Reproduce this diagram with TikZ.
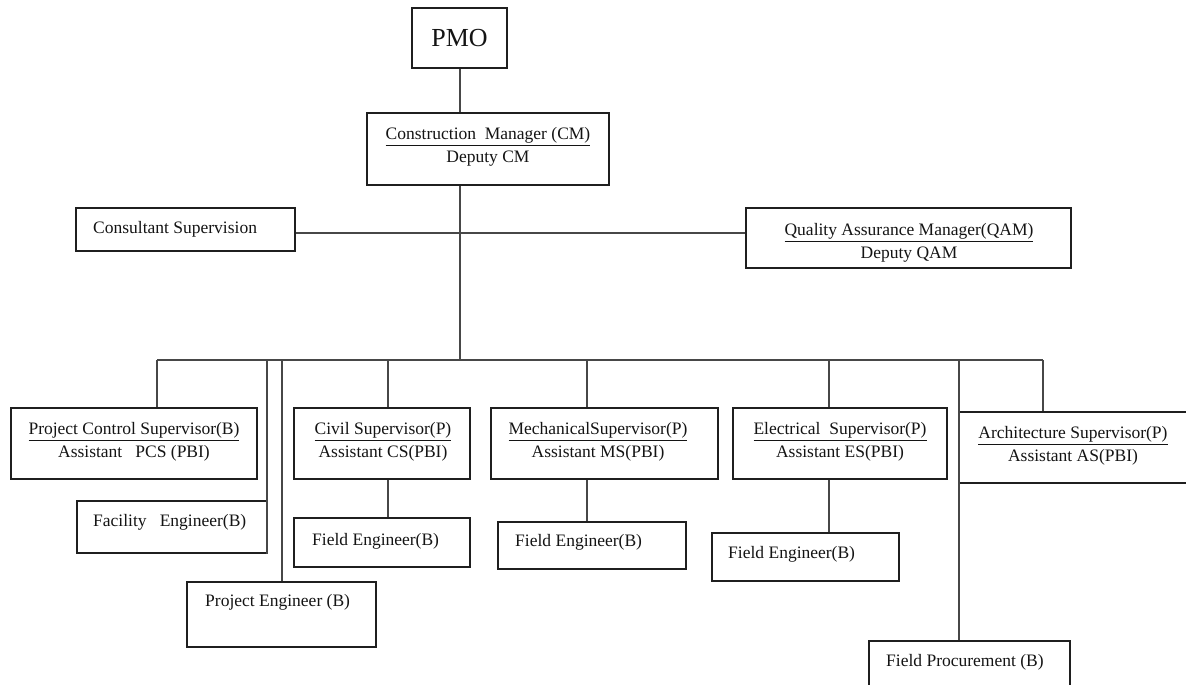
\documentclass[tikz,border=0pt]{standalone}
\usepackage{fontspec}
\setmainfont{Liberation Serif}
\begin{document}
\begin{tikzpicture}[x=1pt,y=-1pt,
  box/.style={draw=black!88, line width=1.4pt, inner sep=0pt},
  conn/.style={draw=black!72, line width=1.3pt},
  txt/.style={font=\fontsize{17.5}{23}\selectfont, inner sep=0pt, align=center, text=black!92},
  ltxt/.style={txt, anchor=mid west}]
\useasboundingbox (0,0) rectangle (1186,685);
\clip (0,0) rectangle (1186,685);
% boxes
\node[box, minimum width=95pt, minimum height=60pt] (pmo) at (459.5,38) {};
\node[txt, font=\fontsize{26}{30}\selectfont] (pmo-t) at (pmo.center) {PMO};
\node[box, minimum width=242pt, minimum height=72pt] (cm) at (488,149) {};
\node[txt] (cm-t) at (488,147) {\underline{Construction~~Manager (CM)}\\Deputy CM};
\node[box, minimum width=219pt, minimum height=43pt] (cons) at (185.5,229.5) {};
\node[ltxt] (cons-t) at (93,231) {Consultant Supervision};
\node[box, minimum width=325pt, minimum height=60pt] (qam) at (908.5,238) {};
\node[txt] (qam-t) at (909,243) {\underline{Quality Assurance Manager(QAM)}\\Deputy QAM};
\node[box, minimum width=246pt, minimum height=71pt] (pcs) at (134,443.5) {};
\node[txt] (pcs-t) at (134,442) {\underline{Project Control Supervisor(B)}\\Assistant~~~PCS (PBI)};
\node[box, minimum width=176pt, minimum height=71pt] (civ) at (382,443.5) {};
\node[txt] (civ-t) at (383,442) {\underline{Civil Supervisor(P)}\\Assistant CS(PBI)};
\node[box, minimum width=227pt, minimum height=71pt] (mech) at (604.5,443.5) {};
\node[txt] (mech-t) at (598,442) {\underline{MechanicalSupervisor(P)}\\Assistant MS(PBI)};
\node[box, minimum width=214pt, minimum height=71pt] (elec) at (840,443.5) {};
\node[txt] (elec-t) at (840,442) {\underline{Electrical~~Supervisor(P)}\\Assistant ES(PBI)};
\node[box, minimum width=232pt, minimum height=71pt] (arch) at (1075,447.5) {};
\node[txt] (arch-t) at (1073,446) {\underline{Architecture Supervisor(P)}\\Assistant AS(PBI)};
\node[box, minimum width=190pt, minimum height=52pt] (fac) at (172,527) {};
\node[ltxt] (fac-t) at (93,524) {Facility~~~Engineer(B)};
\node[box, minimum width=189pt, minimum height=65pt] (pe) at (281.5,614.5) {};
\node[ltxt] (pe-t) at (205,604) {Project Engineer (B)};
\node[box, minimum width=176pt, minimum height=49pt] (fec) at (382,542.5) {};
\node[ltxt] (fec-t) at (312,543) {Field Engineer(B)};
\node[box, minimum width=188pt, minimum height=47pt] (fem) at (592,545.5) {};
\node[ltxt] (fem-t) at (515,544) {Field Engineer(B)};
\node[box, minimum width=187pt, minimum height=48pt] (fee) at (805.5,557) {};
\node[ltxt] (fee-t) at (728,556) {Field Engineer(B)};
\node[box, minimum width=201pt, minimum height=59pt] (fp) at (969.5,670.5) {};
\node[ltxt] (fp-t) at (886,664) {Field Procurement (B)};
% connector coordinates
\coordinate (top) at (460,360);
\coordinate (h) at (460,233);
\coordinate (d1) at (157,360);
\coordinate (d2) at (267,360);
\coordinate (d3) at (282,360);
\coordinate (d4) at (388,360);
\coordinate (d5) at (587,360);
\coordinate (d6) at (829,360);
\coordinate (d7) at (959,360);
\coordinate (d8) at (1043,360);
% connectors
\draw[conn] (pmo.south -| top) -- (cm.north -| top);
\draw[conn] (cm.south -| top) -- (top);
\draw[conn] (cons.east |- h) -- (qam.west |- h);
\draw[conn] (d1) -- (d8);
\draw[conn] (d1) -- (d1 |- pcs.north);
\draw[conn] (d2) -- (d2 |- fac.south);
\draw[conn] (d3) -- (d3 |- pe.north);
\draw[conn] (d4) -- (d4 |- civ.north);
\draw[conn] (d4 |- civ.south) -- (d4 |- fec.north);
\draw[conn] (d5) -- (d5 |- mech.north);
\draw[conn] (d5 |- mech.south) -- (d5 |- fem.north);
\draw[conn] (d6) -- (d6 |- elec.north);
\draw[conn] (d6 |- elec.south) -- (d6 |- fee.north);
\draw[conn] (d7) -- (d7 |- fp.north);
\draw[conn] (d8) -- (d8 |- arch.north);
\end{tikzpicture}
\end{document}
